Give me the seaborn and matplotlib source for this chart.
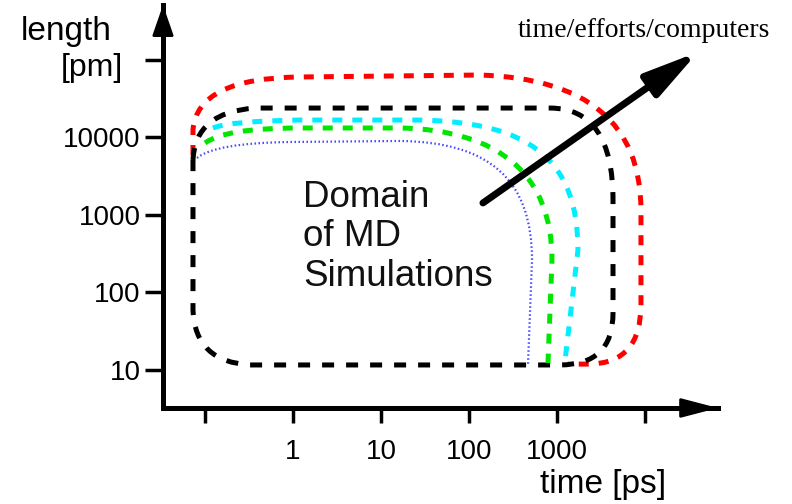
"""Schematic: domain of MD simulations in the time/length plane."""

import matplotlib.pyplot as plt
import seaborn as sns
from matplotlib.patches import PathPatch
from matplotlib.path import Path
from matplotlib.ticker import NullLocator

# axis ticks
X_TICKS = [0.1, 1, 10, 100, 1000, 10000]
X_TICK_LABELS = ["", "1", "10", "100", "1000", ""]
Y_TICKS = [10, 100, 1000, 10000, 100000]
Y_TICK_LABELS = ["10", "100", "1000", "10000", ""]
XLIM = (0.0333, 67600)
YLIM = (3.23, 513000)

# domain outlines: time [ps], length [pm] and one path code per vertex
# M = move, L = line, Q = quadratic corner (ctrl, end), C = cubic (ctrl1, ctrl2, end)
RED_T = [0.073, 0.073, 0.081, 1.2, 133, 9000, 9000, 9000, 9000, 2370, 1330]
RED_L = [5940, 12500, 58600, 60400, 64000, 55200, 1160, 69, 12.3, 11.9, 11.9]
RED_CODES = "MLQQLQQLQQL"

BLACK_T = [0.073, 0.077, 0.37, 832, 4330, 4330, 4330, 4330, 1080, 0.325, 0.077, 0.073, 0.073]
BLACK_L = [5130, 21300, 24000, 24000, 24000, 1560, 54, 11.6, 11.6, 11.6, 12.7, 59, 5130]
BLACK_CODES = "MQQLQQLQQLQQL"

CYAN_T = [0.123, 0.192, 1.2, 27.8, 493, 1730, 1730, 1230]
CYAN_L = [13270, 16300, 16800, 16800, 15850, 5130, 353, 12.7]
CYAN_CODES = "MQQLCCCL"

GREEN_T = [0.1, 0.169, 1.2, 16.4, 225, 877, 877, 790]
GREEN_L = [8490, 13270, 13270, 13270, 12500, 3280, 262, 12.3]
GREEN_CODES = "MQQLCCCL"

BLUE_T = [0.081, 0.13, 0.925, 16.4, 173, 520, 520, 468]
BLUE_L = [5440, 8490, 8750, 9020, 8750, 2830, 262, 11.6]
BLUE_CODES = "MQQLCCCL"

# "more time/effort/computers" arrow
ARROW_START = (144, 1430)
ARROW_END = (40000, 126700)

CODE_MAP = {"M": Path.MOVETO, "L": Path.LINETO, "Q": Path.CURVE3, "C": Path.CURVE4}


def outline(ax, t, length, codes, color, lw, dashes):
    path = Path(list(zip(t, length)), [CODE_MAP[c] for c in codes])
    patch = PathPatch(path, facecolor="none", edgecolor=color, lw=lw,
                      linestyle=(0, dashes), capstyle="butt")
    ax.add_patch(patch)


sns.set_theme(style="white")
plt.rcParams["font.family"] = ["Liberation Sans", "DejaVu Sans"]
plt.rcParams["text.color"] = "black"

fig = plt.figure(figsize=(7.92, 5.04), dpi=100)
ax = fig.add_axes([0.2058, 0.1905, 0.7008, 0.7996])
ax.set_xscale("log")
ax.set_yscale("log")
ax.set_xlim(*XLIM)
ax.set_ylim(*YLIM)

outline(ax, RED_T, RED_L, RED_CODES, "#ff0000", 3.6, (2.0, 2.0))
outline(ax, BLACK_T, BLACK_L, BLACK_CODES, "black", 3.6, (2.4, 2.4))
outline(ax, CYAN_T, CYAN_L, CYAN_CODES, "#00eeff", 3.6, (2.0, 2.0))
outline(ax, GREEN_T, GREEN_L, GREEN_CODES, "#00e600", 3.6, (2.0, 2.0))
outline(ax, BLUE_T, BLUE_L, BLUE_CODES, "#4a4aff", 1.6, (0.7, 1.1))

ax.annotate("", xy=ARROW_END, xytext=ARROW_START,
            arrowprops=dict(arrowstyle="-|>,head_length=1.6,head_width=0.4",
                            mutation_scale=20, lw=5, color="black",
                            shrinkA=0, shrinkB=0))

# axes with arrow heads
sns.despine(ax=ax)
for side in ("left", "bottom"):
    ax.spines[side].set_linewidth(3.6)
    ax.spines[side].set_color("black")
    ax.spines[side].set_capstyle("projecting")
ax.annotate("", xy=(0, 1), xytext=(0, 0.9), xycoords="axes fraction",
            arrowprops=dict(arrowstyle="-|>,head_length=0.95,head_width=0.33",
                            mutation_scale=20, lw=2, color="black",
                            shrinkA=0, shrinkB=0), annotation_clip=False)
ax.annotate("", xy=(1, 0), xytext=(0.9, 0), xycoords="axes fraction",
            arrowprops=dict(arrowstyle="-|>,head_length=1.15,head_width=0.3",
                            mutation_scale=20, lw=2, color="black",
                            shrinkA=0, shrinkB=0), annotation_clip=False)

ax.set_xticks(X_TICKS)
ax.set_xticklabels(X_TICK_LABELS)
ax.set_yticks(Y_TICKS)
ax.set_yticklabels(Y_TICK_LABELS)
ax.xaxis.set_minor_locator(NullLocator())
ax.yaxis.set_minor_locator(NullLocator())
ax.tick_params(axis="x", bottom=True, direction="out", length=11, width=2.5,
               pad=11, labelsize=20, colors="black")
ax.tick_params(axis="y", left=True, direction="out", length=13, width=2.5,
               pad=3, labelsize=20, colors="black")
ax.grid(False)

ax.text(1.3, 520, "Domain\nof MD\nSimulations", fontsize=26.5, ha="left",
        va="center", color="#111111", linespacing=1.15)

fig.text(112 / 792, 1 - 40 / 504, "length", fontsize=24, ha="right", va="baseline")
fig.text(123 / 792, 1 - 76 / 504, "[pm]", fontsize=23, ha="right", va="baseline")
fig.text(540 / 792, 1 - 493 / 504, "time [ps]", fontsize=24, ha="left", va="baseline")
fig.text(644 / 792, 1 - 37 / 504, "time/efforts/computers", fontsize=20,
         family=["Liberation Serif", "DejaVu Serif"], ha="center", va="baseline")

fig.savefig("out.png", dpi=100, facecolor="white")
